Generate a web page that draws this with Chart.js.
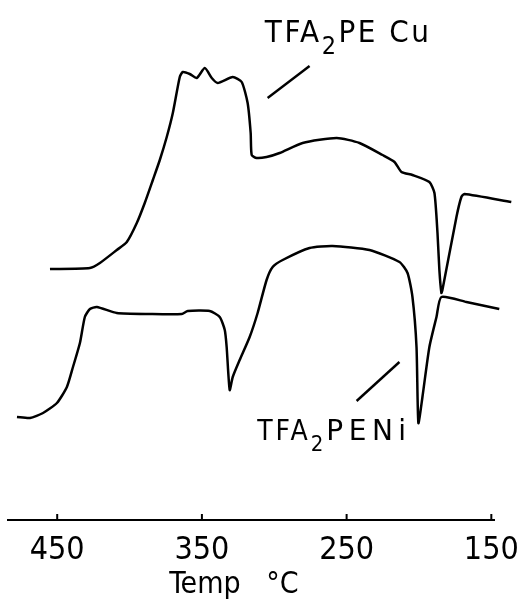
<!DOCTYPE html>
<html>
<head>
<meta charset="utf-8">
<script src="https://cdn.jsdelivr.net/npm/chart.js@4/dist/chart.umd.min.js"></script>
<style>
  body { margin: 0; background: #fff; }
  canvas { display: block; }
</style>
</head>
<body>
<canvas id="dta" width="530" height="603"></canvas>
<script>
// temperatures (deg C) and signal (arbitrary units)
const cuTemp = [455.0, 427.4, 420.5, 408.8, 401.9, 395.0, 389.5, 383.9, 379.1, 374.3, 370.1, 365.3, 363.2, 358.4, 353.6, 348.0, 343.2, 339.1, 328.7, 322.5, 318.4, 316.3, 315.6, 312.2, 305.3, 296.3, 280.4, 256.9, 241.1, 225.2, 216.9, 212.1, 204.5, 192.8, 189.3, 187.2, 185.9, 184.5, 183.8, 174.1, 170.7, 168.6, 136.2];
const cuSignal = [251, 252, 257, 270, 278, 297, 317, 340, 360, 383, 407, 443, 448, 446, 442, 452, 442, 437, 443, 438, 417, 387, 365, 362, 363, 367, 377, 382, 377, 365, 358, 348, 345, 338, 327, 287, 250, 227, 230, 303, 323, 326, 318];

const niTemp = [477.8, 468.8, 459.8, 450.2, 443.3, 439.1, 434.3, 430.9, 427.4, 422.6, 408.8, 386.0, 363.9, 359.8, 344.6, 337.7, 334.2, 332.9, 330.8, 328.7, 323.9, 317.0, 311.5, 305.3, 301.1, 294.2, 275.6, 259.7, 234.2, 213.5, 207.9, 204.5, 201.7, 200.4, 197.6, 192.8, 187.9, 184.5, 167.2, 144.5];
const niSignal = [103, 102, 107, 117, 133, 153, 177, 203, 211, 213, 207, 206, 206, 209, 209, 203, 190, 173, 130, 143, 160, 183, 207, 240, 253, 260, 272, 274, 270, 258, 247, 223, 173, 97, 123, 173, 203, 223, 218, 211];

const xTicks = [450, 350, 250, 150];

// curve labels: [main, subscript, rest], anchor (temp, signal), leader line ends
const curveLabels = [
    { parts: ['TFA', '2', 'PE Cu'], size: 31, gap: 2.5, restGap: 2.5, restFont: "'DejaVu Sans Condensed', 'DejaVu Sans', sans-serif", t: 306.5, s: 478, lead: [304.6, 422, 275.6, 454] },
    { parts: ['TFA', '2', 'PENi'], size: 28, gap: 3, restGap: 5.5, restFont: "'DejaVu Sans', sans-serif", t: 311.8, s: 80, lead: [243.1, 119, 213.5, 158] }
];

const FONT = "'DejaVu Sans Condensed', 'DejaVu Sans', sans-serif";

const annotations = {
    id: 'annotations',
    afterDraw(chart) {
        const { ctx, scales: { x, y } } = chart;
        ctx.save();
        ctx.strokeStyle = '#000';
        ctx.fillStyle = '#000';

        // small upward tick marks on the axis
        ctx.lineWidth = 2;
        xTicks.forEach(v => {
            const px = x.getPixelForValue(v);
            ctx.beginPath();
            ctx.moveTo(px, y.bottom);
            ctx.lineTo(px, y.bottom - 6);
            ctx.stroke();
        });

        curveLabels.forEach(lbl => {
            const [t1, s1, t2, s2] = lbl.lead;
            ctx.lineWidth = 2.4;
            ctx.beginPath();
            ctx.moveTo(x.getPixelForValue(t1), y.getPixelForValue(s1));
            ctx.lineTo(x.getPixelForValue(t2), y.getPixelForValue(s2));
            ctx.stroke();

            let px = x.getPixelForValue(lbl.t);
            const py = y.getPixelForValue(lbl.s);
            ctx.textBaseline = 'alphabetic';
            ctx.textAlign = 'left';
            ctx.letterSpacing = lbl.gap + 'px';
            ctx.font = `${lbl.size}px ${FONT}`;
            ctx.fillText(lbl.parts[0], px, py);
            px += ctx.measureText(lbl.parts[0]).width;
            ctx.font = `${Math.round(lbl.size * 0.8)}px ${FONT}`;
            ctx.fillText(lbl.parts[1], px, py + lbl.size * 0.38);
            px += ctx.measureText(lbl.parts[1]).width;
            ctx.letterSpacing = lbl.restGap + 'px';
            ctx.font = `${lbl.size}px ${lbl.restFont}`;
            ctx.fillText(lbl.parts[2], px, py);
        });
        ctx.restore();
    }
};

const toPoints = (xs, ys) => xs.map((v, i) => ({ x: v, y: ys[i] }));

new Chart(document.getElementById('dta'), {
    type: 'line',
    data: {
        datasets: [
            { label: 'TFA2PECu', data: toPoints(cuTemp, cuSignal) },
            { label: 'TFA2PENi', data: toPoints(niTemp, niSignal) }
        ]
    },
    options: {
        responsive: false,
        animation: false,
        devicePixelRatio: 1,
        layout: { padding: { left: 8, right: 35, top: 0, bottom: 0 } },
        elements: {
            line: { borderColor: '#000', borderWidth: 2.5, tension: 0.2, fill: false },
            point: { radius: 0 }
        },
        datasets: { line: { clip: false } },
        plugins: {
            legend: { display: false },
            tooltip: { enabled: false }
        },
        scales: {
            x: {
                type: 'linear',
                reverse: true,
                min: 148,
                max: 484,
                afterFit: s => { s.height = 83; },
                afterBuildTicks: s => { s.ticks = xTicks.map(v => ({ value: v })); },
                grid: { display: true, drawOnChartArea: false, drawTicks: false },
                border: { display: true, color: '#000', width: 2 },
                ticks: {
                    color: '#000',
                    padding: 11,
                    maxRotation: 0,
                    autoSkip: false,
                    font: { family: FONT, size: 32 }
                },
                title: {
                    display: true,
                    text: 'Temp   °C    ',
                    color: '#000',
                    padding: { top: 0, bottom: 0 },
                    font: { family: FONT, size: 30 }
                }
            },
            y: {
                display: false,
                min: 0,
                max: 520
            }
        }
    },
    plugins: [annotations]
});
</script>
</body>
</html>
